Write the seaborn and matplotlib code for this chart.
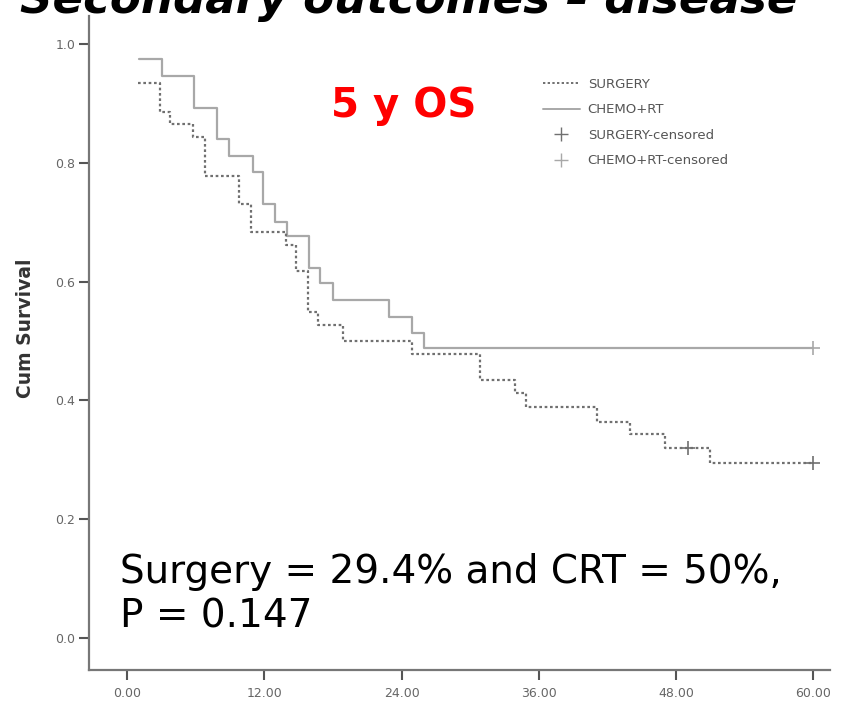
import matplotlib
matplotlib.use("Agg")
import matplotlib.pyplot as plt
import seaborn as sns
import pandas as pd
from matplotlib.lines import Line2D

# ---- data ----
surg_t = [1.0, 2.9, 3.8, 5.8, 6.8, 9.8, 10.8, 13.9, 14.8, 15.85, 16.7, 18.9,
          24.9, 30.9, 33.9, 34.9, 41.1, 44.0, 47.0, 51.0, 60.0]
surg_s = [0.934, 0.886, 0.866, 0.844, 0.778, 0.731, 0.684, 0.662, 0.618, 0.549, 0.527, 0.500,
          0.478, 0.434, 0.412, 0.389, 0.364, 0.344, 0.319, 0.294, 0.294]
crt_t = [1.05, 3.06, 5.9, 7.85, 8.9, 11.0, 11.9, 12.9, 14.0, 15.95, 16.9, 18.0,
         22.9, 24.9, 26.0, 60.0]
crt_s = [0.975, 0.946, 0.892, 0.840, 0.811, 0.784, 0.730, 0.701, 0.677, 0.622, 0.597, 0.569,
         0.541, 0.513, 0.4876, 0.4876]
surg_cens_t = [49.0, 60.0]
surg_cens_s = [0.319, 0.294]
crt_cens_t = [60.0]
crt_cens_s = [0.4876]
x_ticks = [0, 12, 24, 36, 48, 60]
y_ticks = [0.0, 0.2, 0.4, 0.6, 0.8, 1.0]
groups = ["SURGERY", "CHEMO+RT"]

df = pd.DataFrame({
    "time": surg_t + crt_t,
    "surv": surg_s + crt_s,
    "group": [groups[0]] * len(surg_t) + [groups[1]] * len(crt_t),
})

sns.set_style("white")
plt.rcParams["font.family"] = ["DejaVu Sans"]

fig = plt.figure(figsize=(8.43, 7.09), dpi=100)
ax = fig.add_axes([89 / 843, 39 / 709, (830 - 89) / 843, (670 - 16) / 709])

surg_col = "#707070"
crt_col = "#a8a8a8"

sns.lineplot(data=df[df.group == groups[1]], x="time", y="surv", ax=ax,
             estimator=None, sort=False, drawstyle="steps-post",
             color=crt_col, lw=1.6, legend=False)
sns.lineplot(data=df[df.group == groups[0]], x="time", y="surv", ax=ax,
             estimator=None, sort=False, drawstyle="steps-post",
             color=surg_col, lw=1.6, linestyle=(0, (1.2, 1.2)), legend=False)
ax.plot(surg_cens_t, surg_cens_s, ls="none", marker="+", ms=10, mew=1.2, color=surg_col)
ax.plot(crt_cens_t, crt_cens_s, ls="none", marker="+", ms=10, mew=1.2, color=crt_col)

ax.set_xlim(-3.32, 61.45)
ax.set_ylim(-0.054, 1.047)
ax.set_xticks(x_ticks)
ax.set_xticklabels([f"{v:.2f}" for v in x_ticks])
ax.set_yticks(y_ticks)
ax.set_yticklabels([f"{v:.1f}" for v in y_ticks])
ax.tick_params(axis="both", direction="out", length=7, width=1.5, color="#555",
               labelsize=9, labelcolor="#666", bottom=True, left=True)
ax.tick_params(axis="x", pad=5)
ax.tick_params(axis="y", pad=3)
for s in ["top", "right"]:
    ax.spines[s].set_visible(False)
for s in ["left", "bottom"]:
    ax.spines[s].set_color("#777")
    ax.spines[s].set_linewidth(1.6)
ax.set_xlabel("")
ax.set_ylabel("Cum Survival", fontsize=13.5, fontweight="bold", color="#333")
ax.yaxis.set_label_coords(-0.073, 0.523)

handles = [
    Line2D([], [], color=surg_col, lw=1.4, linestyle=(0, (1.2, 1.2))),
    Line2D([], [], color=crt_col, lw=1.4),
    Line2D([], [], color=surg_col, ls="none", marker="+", ms=10, mew=1.0),
    Line2D([], [], color=crt_col, ls="none", marker="+", ms=10, mew=1.0),
]
labels = ["SURGERY", "CHEMO+RT", "SURGERY-censored", "CHEMO+RT-censored"]
leg = ax.legend(handles, labels, loc="upper left",
                bbox_to_anchor=(531 / 843, 1 - 66 / 709), bbox_transform=fig.transFigure,
                frameon=False, fontsize=9.5, handlelength=2.8, labelspacing=0.95,
                handletextpad=0.6)
for t in leg.get_texts():
    t.set_color("#555")

fig.text(404 / 843, 1 - 106 / 709, "5 y OS", color="#ff0000", fontsize=29,
         fontweight="bold", ha="center", va="center")

fig.text(120 / 843, 1 - 572 / 709, "Surgery = 29.4% and CRT = 50%,", fontsize=28,
         ha="left", va="center", color="black")
fig.text(120 / 843, 1 - 617 / 709, "P = 0.147", fontsize=28,
         ha="left", va="center", color="black")

fig.text(20 / 843, 1 - 13 / 709, "Secondary outcomes \u2013 disease", fontsize=32.5,
         fontweight="bold", fontstyle="italic", ha="left", va="baseline", color="black")

fig.savefig("out.png", dpi=100)
